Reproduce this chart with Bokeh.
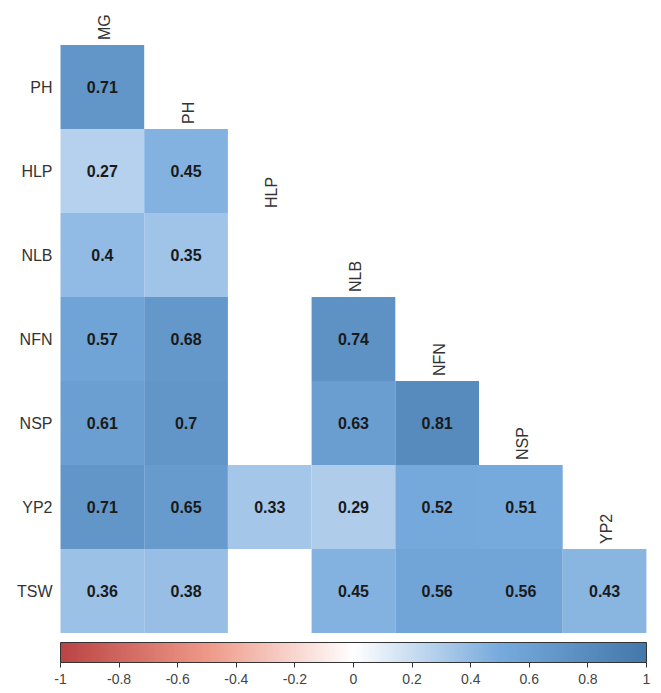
import math
from bokeh.plotting import figure
from bokeh.models import (ColumnDataSource, LinearColorMapper, ColorBar, FixedTicker,
                          CustomJSTickFormatter, Range1d)
from bokeh.transform import transform
from bokeh.core.properties import value
from bokeh.embed import file_html
from bokeh.resources import INLINE

# Variables (rows of the lower triangle, and the columns above them)
rows = ["PH", "HLP", "NLB", "NFN", "NSP", "YP2", "TSW"]
cols = ["MG", "PH", "HLP", "NLB", "NFN", "NSP", "YP2"]

# Correlation coefficients per row; None marks a non-significant pair (left blank)
r_PH = [0.71]
r_HLP = [0.27, 0.45]
r_NLB = [0.40, 0.35, None]
r_NFN = [0.57, 0.68, None, 0.74]
r_NSP = [0.61, 0.70, None, 0.63, 0.81]
r_YP2 = [0.71, 0.65, 0.33, 0.29, 0.52, 0.51]
r_TSW = [0.36, 0.38, None, 0.45, 0.56, 0.56, 0.43]
matrix = [r_PH, r_HLP, r_NLB, r_NFN, r_NSP, r_YP2, r_TSW]

cbar_ticks = [-1, -0.8, -0.6, -0.4, -0.2, 0, 0.2, 0.4, 0.6, 0.8, 1]

# Diverging red-white-blue scale
anchors = ["#BB4444", "#EE9988", "#FFFFFF", "#77AADD", "#4477AA"]


def ramp(stops, n):
    rgb = [tuple(int(c[i:i + 2], 16) for i in (1, 3, 5)) for c in stops]
    out = []
    for k in range(n):
        t = k / (n - 1) * (len(rgb) - 1)
        i = min(int(t), len(rgb) - 2)
        f = t - i
        a, b = rgb[i], rgb[i + 1]
        out.append("#%02x%02x%02x" % tuple(round(a[j] + (b[j] - a[j]) * f) for j in range(3)))
    return out


palette = ramp(anchors, 256)
mapper = LinearColorMapper(palette=palette, low=-1, high=1)

# Cell table
cx, cy, cr, ctxt = [], [], [], []
n = len(rows)
for i, row in enumerate(matrix):
    for j, r in enumerate(row):
        if r is None:
            continue
        cx.append(j)
        cy.append(n - 1 - i)
        cr.append(r)
        ctxt.append(f"{r:g}")
cells = ColumnDataSource(dict(x=cx, y=cy, r=cr, label=ctxt))

# Canvas geometry
W, H = 661, 693
left_px, top_px = 60, 44.5
cell_w, cell_h = 83.7, 84.0
x0 = -0.5 - left_px / cell_w
y1 = (n - 0.5) + top_px / cell_h

p = figure(width=W, height=H, output_backend="svg", toolbar_location=None,
           x_range=Range1d(x0, x0 + W / cell_w), y_range=Range1d(y1 - H / cell_h, y1),
           x_axis_location=None, y_axis_location=None, min_border=0)
p.grid.visible = False
p.outline_line_color = None

p.rect(x="x", y="y", width=1, height=1, source=cells,
       fill_color=transform("r", mapper), line_color=None)

FONT = "Liberation Sans"
font = value(FONT)
p.text(x="x", y="y", text="label", source=cells, text_align="center", text_baseline="middle",
       text_font=font, text_font_style="bold", text_font_size="16px", text_color="#1a1a1a")

# Row names on the left
p.text(x=[-0.5] * n, y=[n - 1 - i for i in range(n)], text=rows, x_offset=-8,
       text_align="right", text_baseline="middle", text_font=font,
       text_font_size="16px", text_color="#333333")

# Column names sit on the diagonal, above the first cell of each column
p.text(x=list(range(n)), y=[n - 1 - j + 0.5 for j in range(n)], text=cols, angle=math.pi / 2,
       y_offset=-5, x_offset=2, text_align="left", text_baseline="middle", text_font=font,
       text_font_size="16px", text_color="#333333")

cbar = ColorBar(color_mapper=mapper, orientation="horizontal", width=586, height=20,
                location=(60, 7), padding=0,
                ticker=FixedTicker(ticks=cbar_ticks),
                formatter=CustomJSTickFormatter(code="return String(Math.round(tick * 10) / 10)"),
                major_tick_in=0, major_tick_out=5, major_tick_line_color="#333333",
                bar_line_color="#333333", label_standoff=6,
                major_label_text_font=FONT, major_label_text_font_size="14px",
                major_label_text_color="#444444",
                background_fill_alpha=0, border_line_color=None)
p.add_layout(cbar)

open("out.html", "w").write(file_html(p, INLINE))
